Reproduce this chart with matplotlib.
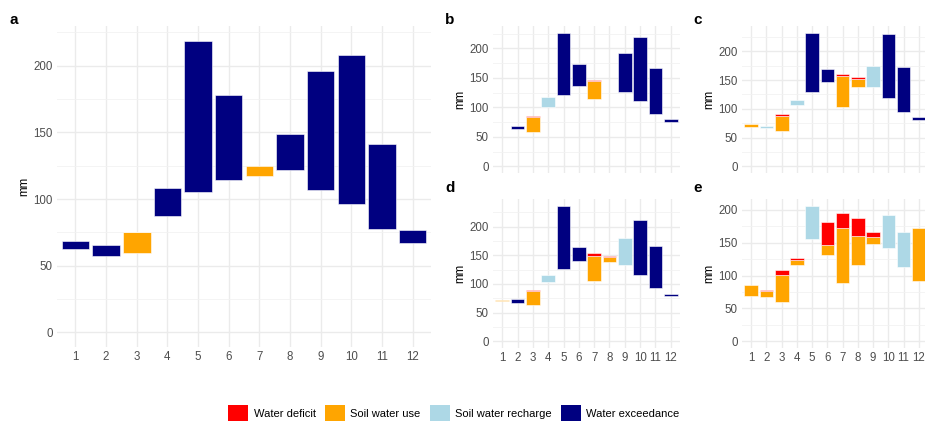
# 导入
import numpy as np
from matplotlib import pyplot as plt
from matplotlib.patches import Patch
from matplotlib.ticker import MultipleLocator

plt.rcParams['font.family'] = ['Liberation Sans', 'DejaVu Sans']

# 数据
months = list(range(1, 13))
nan = np.nan

# kind: E = water exceedance, R = soil water recharge, U = soil water use (+ deficit on top)
a_lo = [62.3, 57.3, 59.3, 87.1, 105.1, 114.4, 117.1, 121.4, 107.1, 96.1, 77.3, 66.8]
a_hi = [68.8, 65.6, 75.6, 108.6, 218.8, 178.0, 124.9, 148.7, 196.0, 208.0, 140.9, 76.8]
a_kind = ['E', 'E', 'U', 'E', 'E', 'E', 'U', 'E', 'E', 'E', 'E', 'E']
a_def = [0, 0, 0.5, 0, 0, 0, 0, 0, 0, 0, 0, 0]

b_lo = [nan, 63.7, 58.6, 100.8, 120.6, 135.8, 114.9, nan, 125.6, 110.4, 88.5, 75.5]
b_hi = [nan, 67.6, 85.6, 118.3, 226.5, 173.0, 146.5, nan, 191.5, 219.7, 167.3, 79.4]
b_kind = ['-', 'E', 'U', 'R', 'E', 'E', 'U', '-', 'E', 'E', 'E', 'E']
b_def = [0, 0, 1.2, 0, 0, 0, 1.2, 0, 0, 0, 0, 0]

c_lo = [68.0, 67.4, 61.7, 106.0, 129.1, 146.4, 103.2, 137.2, 137.2, 118.7, 95.1, 80.1]
c_hi = [73.2, 69.7, 91.6, 115.9, 232.3, 168.3, 160.8, 155.0, 174.6, 230.5, 172.9, 86.5]
c_kind = ['U', 'R', 'U', 'R', 'E', 'E', 'U', 'U', 'R', 'E', 'E', 'E']
c_def = [0, 0, 4.5, 0, 0, 0, 4.0, 3.4, 0, 0, 0, 0]

d_lo = [70.8, 65.9, 62.4, 103.8, 125.4, 140.5, 105.0, 137.6, 132.4, 115.5, 92.1, 78.1]
d_hi = [71.8, 72.9, 88.6, 114.9, 236.2, 163.8, 153.9, 148.7, 180.2, 211.1, 166.8, 81.6]
d_kind = ['U', 'E', 'U', 'R', 'E', 'E', 'U', 'U', 'R', 'E', 'E', 'E']
d_def = [0, 0, 1.1, 0, 0, 0, 4.6, 2.3, 0, 0, 0, 0]

e_lo = [68.2, 67.7, 59.0, 116.0, 156.2, 131.3, 88.0, 116.0, 147.6, 142.5, 112.5, 91.1]
e_hi = [85.0, 78.4, 107.9, 127.2, 206.1, 181.2, 195.4, 186.8, 166.9, 191.3, 166.4, 172.0]
e_kind = ['U', 'U', 'U', 'U', 'R', 'U', 'U', 'U', 'U', 'R', 'R', 'U']
e_def = [0, 1.6, 6.6, 3.0, 0, 35.1, 22.9, 26.0, 8.6, 0, 0, 0]

colors = {'D': '#FF0000', 'U': '#FFA500', 'R': '#ADD8E6', 'E': '#000080'}
legend_names = ['Water deficit', 'Soil water use', 'Soil water recharge', 'Water exceedance']

# 图片大小
fig = plt.figure(figsize=(9.25, 4.24), dpi=100)


def box(l, t, r, b):
    return [l / 925, 1 - b / 424, (r - l) / 925, (b - t) / 424]


def panel(rect, lo, hi, kind, deficit, show_x=True):
    ax = fig.add_axes(rect)
    lo = np.array(lo, dtype=float)
    hi = np.array(hi, dtype=float)
    dfc = np.array(deficit, dtype=float)
    for m, l, h, k, d in zip(months, lo, hi, kind, dfc):
        if k == '-' or np.isnan(l):
            continue
        kw = dict(width=0.9, edgecolor='white', linewidth=0.4, zorder=3)
        if k == 'U':
            ax.bar(m, h - d - l, bottom=l, color=colors['U'], **kw)
            if d > 0:
                ax.bar(m, d, bottom=h - d, color=colors['D'], **kw)
        else:
            ax.bar(m, h - l, bottom=l, color=colors[k], **kw)
    ymax = np.nanmax(hi)
    ax.set_ylim(-0.05 * ymax, 1.05 * ymax)
    ax.set_xlim(0.4, 12.6)
    ax.set_xticks(months)
    ax.yaxis.set_major_locator(MultipleLocator(50))
    ax.yaxis.set_minor_locator(MultipleLocator(25))
    ax.set_axisbelow(True)
    ax.grid(which='major', color='#EBEBEB', linewidth=1.0)
    ax.grid(which='minor', axis='y', color='#F2F2F2', linewidth=0.6)
    for s in ax.spines.values():
        s.set_visible(False)
    ax.tick_params(which='both', length=0, labelsize=8.3, labelcolor='#4D4D4D', pad=3)
    if not show_x:
        ax.set_xticklabels([])
    ax.set_ylabel('mm', fontsize=8.3, labelpad=2)
    return ax


panel(box(57, 26, 431, 347), a_lo, a_hi, a_kind, a_def)
panel(box(493, 26, 680, 173), b_lo, b_hi, b_kind, b_def, show_x=False)
panel(box(742, 26, 928, 173), c_lo, c_hi, c_kind, c_def, show_x=False)
panel(box(493, 199, 680, 348), d_lo, d_hi, d_kind, d_def)
panel(box(742, 199, 928, 348), e_lo, e_hi, e_kind, e_def)

# 面板标签
for lab, x, y in [('a', 9, 20), ('b', 445, 20), ('c', 693, 20), ('d', 445, 188), ('e', 693, 188)]:
    fig.text(x / 925, 1 - y / 424, lab, fontsize=11, fontweight='bold', va='center')

# 图例
handles = [Patch(facecolor=colors[k], edgecolor='none') for k in ['D', 'U', 'R', 'E']]
fig.legend(handles, legend_names, loc='center', bbox_to_anchor=(454 / 925, 1 - 413 / 424),
           ncol=4, frameon=False, fontsize=8, handlelength=1.8, handleheight=1.8,
           handletextpad=0.5, columnspacing=0.8)

# 保存图片
plt.savefig('out.png', dpi=100)
